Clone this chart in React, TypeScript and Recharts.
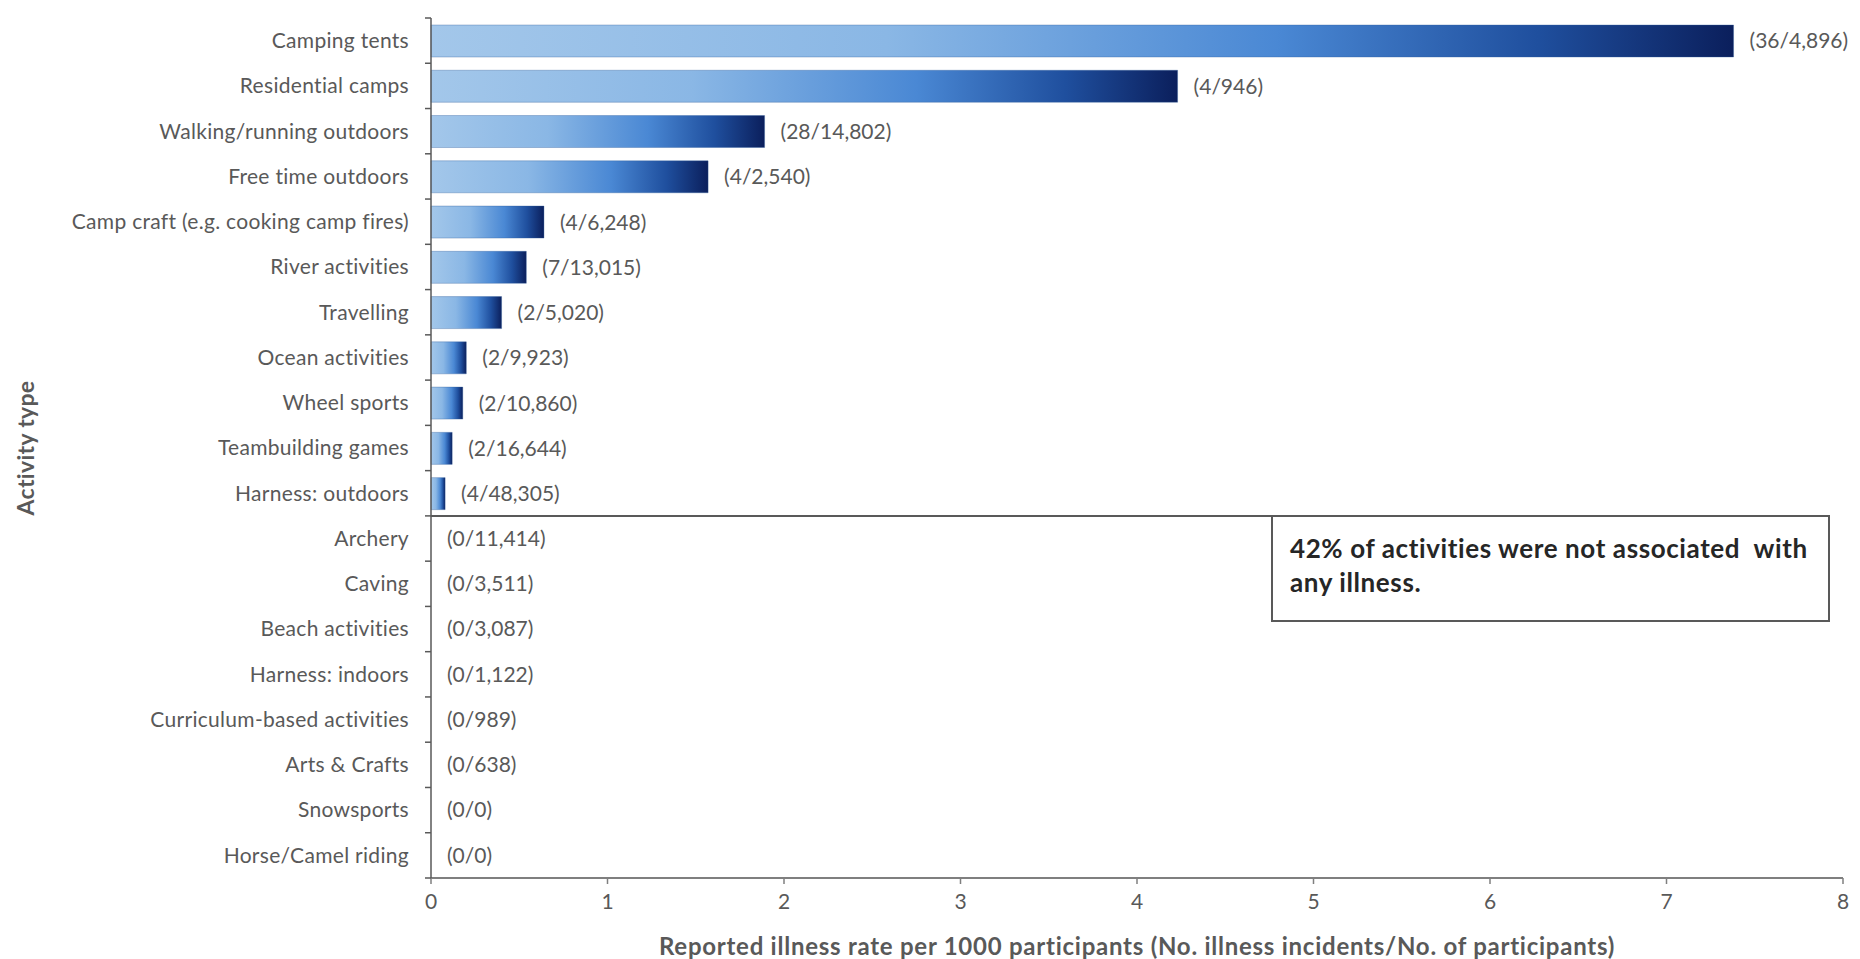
import React from 'react';
import { BarChart, Bar, XAxis, YAxis, LabelList, Label } from 'recharts';

const activities = [
  'Camping tents',
  'Residential camps',
  'Walking/running outdoors',
  'Free time outdoors',
  'Camp craft (e.g. cooking camp fires)',
  'River activities',
  'Travelling',
  'Ocean activities',
  'Wheel sports',
  'Teambuilding games',
  'Harness: outdoors',
  'Archery',
  'Caving',
  'Beach activities',
  'Harness: indoors',
  'Curriculum-based activities',
  'Arts & Crafts',
  'Snowsports',
  'Horse/Camel riding',
];

const illnessRates = [7.38, 4.23, 1.89, 1.57, 0.64, 0.54, 0.4, 0.2, 0.18, 0.12, 0.08, 0, 0, 0, 0, 0, 0, 0, 0];

const incidentLabels = [
  '(36/4,896)',
  '(4/946)',
  '(28/14,802)',
  '(4/2,540)',
  '(4/6,248)',
  '(7/13,015)',
  '(2/5,020)',
  '(2/9,923)',
  '(2/10,860)',
  '(2/16,644)',
  '(4/48,305)',
  '(0/11,414)',
  '(0/3,511)',
  '(0/3,087)',
  '(0/1,122)',
  '(0/989)',
  '(0/638)',
  '(0/0)',
  '(0/0)',
];

const xTicks = [0, 1, 2, 3, 4, 5, 6, 7, 8];

const xTitle = 'Reported illness rate per 1000 participants (No. illness incidents/No. of participants)';
const yTitle = 'Activity type';
const noteLine1 = '42% of activities were not associated  with';
const noteLine2 = 'any illness.';

const data = activities.map((a, i) => ({ activity: a, rate: illnessRates[i], label: incidentLabels[i] }));

const W = 1860;
const H = 959;
const MARGIN = { top: 18, right: 17, left: 0, bottom: 0 };
const Y_AXIS_W = 431;
const X_AXIS_H = 81;
const PLOT_H = H - MARGIN.top - MARGIN.bottom - X_AXIS_H;
const BAND = PLOT_H / activities.length;
const FONT = 'Lato, "Open Sans", sans-serif';
const GRAY = '#595959';
const TICK_SIZE = 6;
const TICK_MARGIN = 16;
const LABEL_OFFSET = 16;
const LABEL_FONT = 21;

const YTick = (props: any) => {
  const { x, y, payload } = props;
  const axisX = x + TICK_SIZE + TICK_MARGIN;
  const idx = activities.indexOf(payload.value);
  const isLast = idx === activities.length - 1;
  const zero = idx >= 0 && illnessRates[idx] === 0;
  return (
    <g>
      <line x1={axisX - TICK_SIZE} x2={axisX} y1={y - BAND / 2} y2={y - BAND / 2} stroke={GRAY} strokeWidth={1.5} />
      {isLast && (
        <line x1={axisX - TICK_SIZE} x2={axisX} y1={y + BAND / 2} y2={y + BAND / 2} stroke={GRAY} strokeWidth={1.5} />
      )}
      <text
        x={x}
        y={y}
        dy="0.35em"
        textAnchor="end"
        fill={GRAY}
        fontSize={21}
        letterSpacing={0.3}
        fontFamily={FONT}
      >
        {payload.value}
      </text>
      {zero && (
        <text x={axisX + LABEL_OFFSET} y={y} dy="0.35em" textAnchor="start" fill={GRAY} fontSize={LABEL_FONT} fontFamily={FONT}>
          {incidentLabels[idx]}
        </text>
      )}
    </g>
  );
};

const YTitle = (props: any) => {
  const vb = props.viewBox || {};
  const cy = (vb.y ?? MARGIN.top) + (vb.height ?? PLOT_H) / 2;
  const cx = 25;
  return (
    <text
      x={cx}
      y={cy}
      transform={`rotate(-90, ${cx}, ${cy})`}
      textAnchor="middle"
      dominantBaseline="central"
      fill={GRAY}
      fontSize={23}
      letterSpacing={0.3}
      fontWeight={700}
      fontFamily={FONT}
    >
      {yTitle}
    </text>
  );
};

const XTitle = (props: any) => {
  const vb = props.viewBox || {};
  const cx = (vb.x ?? Y_AXIS_W) + (vb.width ?? 0) / 2;
  const cy = (vb.y ?? 878) + 67;
  return (
    <text
      x={cx}
      y={cy}
      textAnchor="middle"
      dominantBaseline="central"
      fill={GRAY}
      fontSize={24}
      letterSpacing={0.75}
      fontWeight={700}
      fontFamily={FONT}
    >
      {xTitle}
    </text>
  );
};

export default function App() {
  const boundaryY = MARGIN.top + 11 * BAND;
  const boxLeft = 1271;
  const boxRight = 1830;
  const boxBottom = 623;
  return (
    <div style={{ position: 'absolute', left: 0, top: 0, width: W, height: H, background: '#fff' }}>
      <BarChart width={W} height={H} data={data} layout="vertical" margin={MARGIN} barSize={32}>
        <defs>
          <linearGradient id="barGrad" x1="0" y1="0" x2="1" y2="0">
            <stop offset="0%" stopColor="#a3c7ea" />
            <stop offset="35%" stopColor="#8ab7e5" />
            <stop offset="65%" stopColor="#4a88d4" />
            <stop offset="85%" stopColor="#1f4f9e" />
            <stop offset="100%" stopColor="#0b1f5c" />
          </linearGradient>
        </defs>
        <XAxis
          type="number"
          domain={[0, 8]}
          ticks={xTicks}
          interval={0}
          height={X_AXIS_H}
          axisLine={{ stroke: '#7f7f7f', strokeWidth: 2 }}
          tickLine={{ stroke: '#7f7f7f', strokeWidth: 1.5 }}
          tickSize={6}
          tickMargin={10}
          tick={{ fill: GRAY, fontSize: 21, fontFamily: FONT }}
        >
          <Label content={<XTitle />} />
        </XAxis>
        <YAxis
          type="category"
          dataKey="activity"
          width={Y_AXIS_W}
          interval={0}
          axisLine={{ stroke: GRAY, strokeWidth: 1.5 }}
          tickLine={false}
          tickSize={TICK_SIZE}
          tickMargin={TICK_MARGIN}
          tick={<YTick />}
        >
          <Label content={<YTitle />} />
        </YAxis>
        <Bar dataKey="rate" fill="url(#barGrad)" stroke="#2f5c9c" strokeOpacity={0.35} strokeWidth={1} isAnimationActive={false}>
          <LabelList dataKey="label" position="right" offset={LABEL_OFFSET} fill={GRAY} fontSize={LABEL_FONT} fontFamily={FONT} />
        </Bar>
      </BarChart>
      <div
        style={{
          position: 'absolute',
          left: Y_AXIS_W,
          top: boundaryY - 1,
          width: boxLeft - Y_AXIS_W,
          height: 0,
          borderTop: `2px solid ${GRAY}`,
        }}
      />
      <div
        style={{
          position: 'absolute',
          left: boxLeft,
          top: boundaryY - 1,
          width: boxRight - boxLeft,
          height: boxBottom - boundaryY,
          boxSizing: 'border-box',
          border: `2px solid ${GRAY}`,
          background: '#fff',
          padding: '14px 0 0 17px',
          fontFamily: FONT,
          fontWeight: 700,
          fontSize: 26,
          letterSpacing: 0.6,
          lineHeight: '34px',
          color: '#262626',
          whiteSpace: 'pre',
        }}
      >
        {noteLine1}
        <br />
        {noteLine2}
      </div>
    </div>
  );
}
